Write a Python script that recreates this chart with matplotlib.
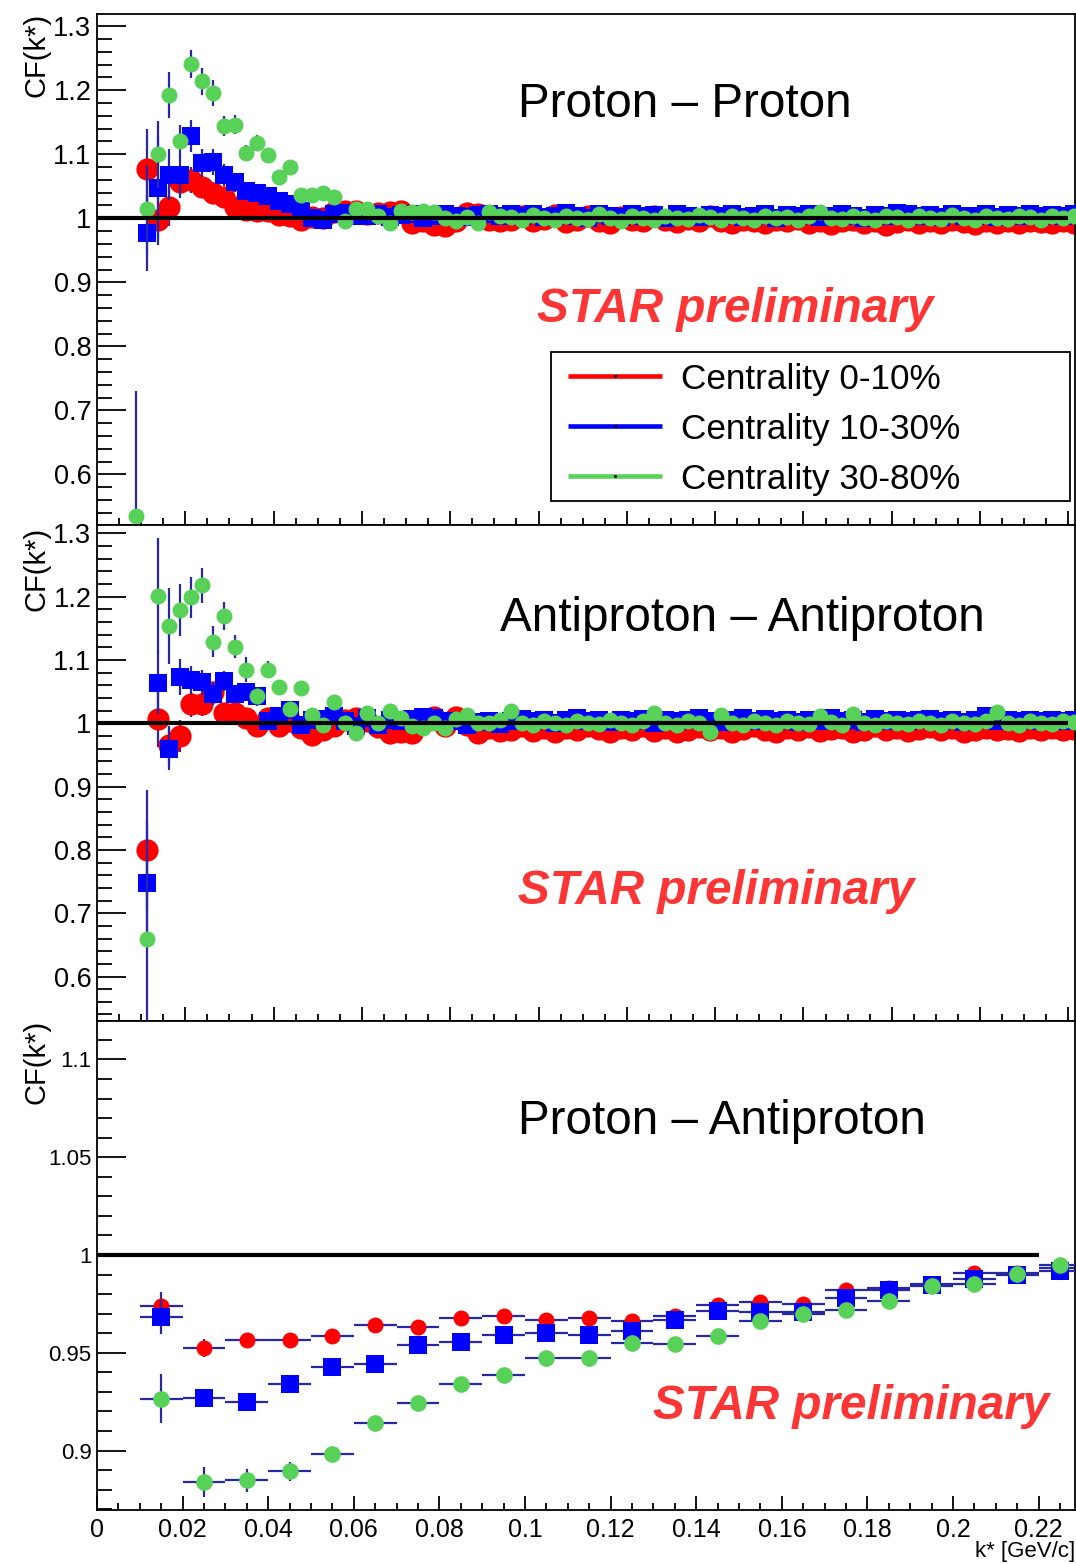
import numpy as np
import matplotlib
matplotlib.use("Agg")
import matplotlib.pyplot as plt
from matplotlib.ticker import MultipleLocator, FuncFormatter
from matplotlib.lines import Line2D
from matplotlib.patches import Rectangle

plt.rcParams['font.family'] = ['Liberation Sans', 'DejaVu Sans']

nan = float('nan')

# ---------------- data ----------------
# bin centres (k*, GeV/c) for the proton-proton and antiproton-antiproton panels
k_fine = [0.00875, 0.01125, 0.01375, 0.01625, 0.01875, 0.02125, 0.02375, 0.02625, 0.02875, 0.03125,
          0.03375, 0.03625, 0.03875, 0.04125, 0.04375, 0.04625, 0.04875, 0.05125, 0.05375, 0.05625,
          0.05875, 0.06125, 0.06375, 0.06625, 0.06875, 0.07125, 0.07375, 0.07625, 0.07875, 0.08125,
          0.08375, 0.08625, 0.08875, 0.09125, 0.09375, 0.09625, 0.09875, 0.10125, 0.10375, 0.10625,
          0.10875, 0.11125, 0.11375, 0.11625, 0.11875, 0.12125, 0.12375, 0.12625, 0.12875, 0.13125,
          0.13375, 0.13625, 0.13875, 0.14125, 0.14375, 0.14625, 0.14875, 0.15125, 0.15375, 0.15625,
          0.15875, 0.16125, 0.16375, 0.16625, 0.16875, 0.17125, 0.17375, 0.17625, 0.17875, 0.18125,
          0.18375, 0.18625, 0.18875, 0.19125, 0.19375, 0.19625, 0.19875, 0.20125, 0.20375, 0.20625,
          0.20875, 0.21125, 0.21375, 0.21625, 0.21875, 0.22125]

# Proton - Proton
pp_c0_10 = [nan, 1.077, 0.998, 1.018, 1.056, 1.060, 1.049, 1.040, 1.034, 1.017,
            1.013, 1.011, 1.012, 1.005, 1.003, 0.998, 1.002, 1.000, 1.010, 1.012,
            1.011, 1.006, 1.009, 1.010, 1.011, 0.992, 0.995, 0.990, 0.988, 0.996,
            1.008, 1.006, 0.998, 0.996,
            0.997, 1.004, 0.995, 0.999, 1.005, 0.994, 0.998, 1.003, 0.996, 0.993,
            1.002, 0.997, 0.995, 1.004, 0.998, 0.994, 0.999, 0.996, 1.003, 0.995,
            0.993, 0.998, 0.996, 0.992, 0.997, 0.995, 0.999, 0.993, 0.996, 0.991,
            0.995, 0.998, 0.993, 0.996, 0.990, 0.994, 0.997, 0.992, 0.995, 0.993,
            0.998, 0.994, 0.991, 0.996, 0.993, 0.995, 0.992, 0.996, 0.994, 0.992,
            0.995, 0.993]
pp_c10_30 = [nan, 0.977, 1.047, 1.068, 1.068, 1.128, 1.087, 1.088, 1.068, 1.056,
             1.042, 1.039, 1.035, 1.027, 1.022, 1.011, 1.001, 0.998, 1.006, 1.008,
             1.004, 1.003, 1.006, 1.002, 1.005, 1.007, 1.001, 1.004, 1.006, 1.003,
             1.002, 1.005, 1.007, 1.003,
             1.006, 1.003, 1.007, 1.002, 1.004, 1.008, 1.003, 1.001, 1.006, 1.004,
             1.002, 1.007, 1.003, 1.005, 1.001, 1.006, 1.004, 1.002, 1.005, 1.003,
             1.007, 1.002, 1.004, 1.006, 1.001, 1.005, 1.003, 1.007, 1.002, 1.004,
             1.006, 1.003, 1.001, 1.005, 1.004, 1.008, 1.007, 1.003, 1.005, 1.002,
             1.006, 1.004, 1.003, 1.007, 1.002, 1.005, 1.004, 1.006, 1.003, 1.005,
             1.004, 1.006]
pp_c30_80 = [0.535, 1.014, 1.100, 1.193, 1.120, 1.241, 1.214, 1.196, 1.144, 1.146,
             1.102, 1.118, 1.099, 1.064, 1.080, 1.036, 1.036, 1.039, 1.033, 0.996,
             1.015, 1.015, 1.003, 0.993, 1.011, 1.010, 1.011, 1.010, 1.000, 0.995,
             1.002, 0.993, 1.010, 1.003,
             1.002, 0.998, 1.005, 1.000, 0.997, 1.004, 1.001, 0.999, 1.006, 1.000,
             0.996, 1.003, 1.001, 0.998, 1.004, 1.000, 0.999, 1.005, 1.002, 0.997,
             1.003, 1.001, 0.998, 1.004, 1.000, 1.002, 0.997, 1.003, 1.010, 1.001,
             0.999, 1.004, 1.000, 0.997, 1.003, 1.002, 0.998, 1.004, 1.001, 0.999,
             1.005, 1.000, 0.998, 1.003, 1.001, 0.999, 1.004, 1.002, 0.998, 1.003,
             1.000, 1.004]
pp_c0_10_err = [0.0, 0.062, 0.040, 0.030, 0.025, 0.020, 0.018, 0.016, 0.014, 0.012, 0.011, 0.010]
pp_c10_30_err = [0.0, 0.060, 0.080, 0.040, 0.030, 0.025, 0.022, 0.020, 0.017, 0.015, 0.013, 0.012]
pp_c30_80_err = [0.195, 0.070, 0.052, 0.036, 0.025, 0.022, 0.021, 0.020, 0.016, 0.015,
                 0.013, 0.012, 0.011, 0.010, 0.010, 0.009]

# Antiproton - Antiproton
aa_c0_10 = [nan, 0.800, 1.007, 0.965, 0.980, 1.030, 1.030, 1.050, 1.016, 1.016,
            1.008, 0.996, 1.008, 0.995, 1.003, 0.993, 0.981, 0.990, 0.995, 1.005,
            1.008, 1.003, 0.994, 0.985, 0.986, 0.984, 1.000, 1.010, 0.996, 1.010,
            0.998, 0.984, 0.992, 0.988,
            0.990, 0.995, 0.988, 0.992, 0.986, 0.993, 0.989, 0.996, 0.991, 0.987,
            0.993, 0.990, 0.995, 0.988, 0.992, 0.986, 0.990, 0.994, 0.989, 0.992,
            0.987, 0.991, 0.995, 0.989, 0.986, 0.992, 0.990, 0.994, 0.988, 0.991,
            0.993, 0.987, 0.990, 0.995, 0.989, 0.992, 0.988, 0.991, 0.994, 0.989,
            0.992, 0.987, 0.990, 0.993, 0.989, 0.991, 0.988, 0.992, 0.990, 0.993,
            0.989, 0.991]
aa_c10_30 = [nan, 0.748, 1.064, 0.959, 1.073, 1.069, 1.065, 1.047, 1.067, 1.047,
             1.050, 1.043, 1.004, 1.012, 1.021, 0.998, 1.005, 1.007, 1.012, 1.004,
             0.995, 1.008, 0.998, 1.006, 1.004, 1.007, 1.010, 1.008, 1.004, 1.003,
             0.998, 1.002, 1.004, 0.999,
             1.004, 1.007, 1.003, 1.006, 1.001, 1.005, 1.008, 1.003, 1.006, 1.002,
             1.005, 1.004, 1.007, 1.001, 1.006, 1.003, 1.005, 1.008, 1.004, 1.002,
             1.006, 1.009, 1.004, 1.007, 1.003, 1.005, 1.002, 1.006, 1.004, 1.008,
             1.003, 1.005, 1.002, 1.007, 1.004, 1.006, 1.003, 1.005, 1.007, 1.004,
             1.006, 1.002, 1.005, 1.012, 1.004, 1.006, 1.003, 1.005, 1.004, 1.006,
             1.003, 1.005]
aa_c30_80 = [nan, 0.660, 1.201, 1.153, 1.179, 1.199, 1.218, 1.129, 1.170, 1.121,
             1.085, 1.043, 1.085, 1.057, 1.022, 1.056, 1.013, 0.997, 1.034, 1.000,
             0.985, 1.017, 1.000, 1.019, 1.009, 0.995, 0.992, 1.000, 0.992, 1.007,
             1.013, 1.000, 1.000, 1.005,
             1.020, 1.001, 0.998, 1.004, 1.000, 0.997, 1.003, 1.001, 0.999, 1.005,
             1.000, 0.997, 1.003, 1.016, 1.001, 0.998, 1.004, 1.000, 0.987, 1.013,
             1.001, 0.998, 1.004, 1.000, 0.997, 1.003, 1.001, 0.999, 1.011, 1.002,
             0.998, 1.014, 1.000, 0.997, 1.003, 1.001, 0.999, 1.004, 1.000, 0.998,
             1.003, 1.001, 0.999, 1.004, 1.018, 1.000, 0.998, 1.003, 1.001, 0.999,
             1.004, 1.002]
aa_c0_10_err = [0.0, 0.095, 0.045, 0.030, 0.025, 0.020, 0.018, 0.016, 0.014, 0.012]
aa_c10_30_err = [0.0, 0.100, 0.050, 0.033, 0.028, 0.022, 0.020, 0.018, 0.016, 0.014]
aa_c30_80_err = [0.0, 0.130, 0.092, 0.060, 0.041, 0.032, 0.028, 0.025, 0.022, 0.018,
                 0.019, 0.015, 0.013, 0.012, 0.011, 0.010]

# Proton - Antiproton
k_coarse = [0.015, 0.025, 0.035, 0.045, 0.055, 0.065, 0.075, 0.085, 0.095, 0.105, 0.115,
            0.125, 0.135, 0.145, 0.155, 0.165, 0.175, 0.185, 0.195, 0.205, 0.215, 0.225]
k_coarse_halfwidth = 0.005
pa_c0_10 = [0.9737, 0.9522, 0.9563, 0.9563, 0.9588, 0.9640, 0.9632, 0.9678, 0.9690, 0.9665, 0.9680,
            0.9660, 0.9690, 0.9742, 0.9760, 0.9750, 0.9820, 0.9830, 0.9850, 0.9910, 0.9910, 0.9935]
pa_c10_30 = [0.9683, 0.9271, 0.9249, 0.9339, 0.9429, 0.9444, 0.9539, 0.9556, 0.9593, 0.9600, 0.9592,
             0.9610, 0.9668, 0.9715, 0.9710, 0.9707, 0.9778, 0.9822, 0.9848, 0.9875, 0.9900, 0.9919]
pa_c30_80 = [0.9266, 0.8839, 0.8847, 0.8893, 0.8980, 0.9140, 0.9242, 0.9342, 0.9386, 0.9473, 0.9473,
             0.9550, 0.9544, 0.9586, 0.9662, 0.9698, 0.9720, 0.9763, 0.9843, 0.9852, 0.9905, 0.9951]
pa_c0_10_err = [0.0075, 0.0046, 0.0040, 0.0035, 0.0030]
pa_c10_30_err = [0.0085, 0.0045, 0.0040, 0.0035, 0.0030]
pa_c30_80_err = [0.0125, 0.0075, 0.0058, 0.0047, 0.0040, 0.0035, 0.0030]

ref_k = [0.0, 0.22]
ref_cf = [1.0, 1.0]

legend_labels = ["Centrality 0-10%", "Centrality 10-30%", "Centrality 30-80%"]
titles = ["Proton \u2013 Proton", "Antiproton \u2013 Antiproton", "Proton \u2013 Antiproton"]

# ---------------- figure ----------------
W, H = 1076, 1564
fig = plt.figure(figsize=(W / 100, H / 100), dpi=100)


def fx(px):
    return px / W


def fy(py):
    return 1 - py / H


L, R = 97, 1075


def add(top, bot):
    return fig.add_axes([fx(L), fy(bot), fx(R) - fx(L), fy(top) - fy(bot)])


ax1 = add(14, 525)
ax2 = add(525, 1020.7)
ax3 = add(1020.7, 1510)

RED = '#ff0000'
BLUE = '#0000ff'
GREEN = '#58d158'
ECOL = '#2828a6'
fmt = FuncFormatter(lambda v, p: '%g' % v)


def style(ax, ylo, yhi, xhi, ymaj, ymin, ysize, show_x):
    ax.set_xlim(0, xhi)
    ax.set_ylim(ylo, yhi)
    ax.xaxis.set_major_locator(MultipleLocator(0.02))
    ax.xaxis.set_minor_locator(MultipleLocator(0.005))
    ax.yaxis.set_major_locator(MultipleLocator(ymaj))
    ax.yaxis.set_minor_locator(MultipleLocator(ymin))
    ax.xaxis.set_major_formatter(fmt)
    ax.yaxis.set_major_formatter(fmt)
    ax.tick_params(axis='y', which='major', direction='in', length=21, width=1.3,
                   left=True, right=False, labelsize=ysize, pad=4)
    ax.tick_params(axis='y', which='minor', direction='in', length=11, width=1.3,
                   left=True, right=False)
    ax.tick_params(axis='x', which='major', direction='in', length=10, width=1.3,
                   bottom=True, top=False, labelbottom=show_x, labelsize=18, pad=6)
    ax.tick_params(axis='x', which='minor', direction='in', length=5, width=1.3,
                   bottom=True, top=False)
    for s in ax.spines.values():
        s.set_linewidth(1.3)


style(ax1, 0.5208, 1.3192, 0.2215, 0.1, 0.02, 19.5, False)
style(ax2, 0.5302, 1.3133, 0.2215, 0.1, 0.02, 19.5, False)
style(ax3, 0.8696, 1.1198, 0.2285, 0.05, 0.01, 16, True)


def draw(ax, k, vals, errs, color, marker, ms, z):
    n = len(errs)
    ax.errorbar(k[:n], vals[:n], yerr=errs, fmt='none', ecolor=ECOL,
                elinewidth=1.6, capsize=0, zorder=z)
    ax.plot(k, vals, ls='none', marker=marker, ms=ms, mfc=color, mec=color,
            mew=0, zorder=z + 0.1)


for ax, (r, re), (b, be), (g, ge) in [
        (ax1, (pp_c0_10, pp_c0_10_err), (pp_c10_30, pp_c10_30_err), (pp_c30_80, pp_c30_80_err)),
        (ax2, (aa_c0_10, aa_c0_10_err), (aa_c10_30, aa_c10_30_err), (aa_c30_80, aa_c30_80_err))]:
    draw(ax, k_fine, r, re, RED, 'o', 16, 2)
    draw(ax, k_fine, b, be, BLUE, 's', 13, 3)
    draw(ax, k_fine, g, ge, GREEN, 'o', 11.5, 4)
    ax.plot(ref_k, ref_cf, color='black', lw=3, zorder=10, solid_capstyle='butt')

for vals, errs, color, marker, ms, z in [
        (pa_c0_10, pa_c0_10_err, RED, 'o', 11.5, 2),
        (pa_c10_30, pa_c10_30_err, BLUE, 's', 13, 3),
        (pa_c30_80, pa_c30_80_err, GREEN, 'o', 12, 4)]:
    ax3.errorbar(k_coarse, vals, xerr=k_coarse_halfwidth, fmt='none', ecolor=ECOL,
                 elinewidth=1.6, capsize=0, zorder=z)
    draw(ax3, k_coarse, vals, errs, color, marker, ms, z)
ax3.plot(ref_k, ref_cf, color='black', lw=3, zorder=10, solid_capstyle='butt')

# y-axis titles
for top in (13, 527, 1020):
    fig.text(fx(37), fy(top), 'CF(k*)', rotation=90, ha='center', va='top', fontsize=21)

# x-axis title
fig.text(fx(1075), fy(1562), 'k* [GeV/c]', ha='right', va='bottom', fontsize=16)

# panel titles
for (x0, base), t in zip([(518, 117), (500, 631), (518, 1134)], titles):
    fig.text(fx(x0), fy(base), t, fontsize=34.3, ha='left', va='baseline')

# STAR preliminary
for x0, base in [(537, 322), (518, 904), (653, 1419)]:
    fig.text(fx(x0), fy(base), 'STAR preliminary', fontsize=34.3, fontweight='bold',
             fontstyle='italic', color='#fd3535', ha='left', va='baseline')

# legend (drawn in figure pixels)
fig.add_artist(Rectangle((fx(551), fy(501)), fx(1070) - fx(551), fy(352) - fy(501),
                         transform=fig.transFigure, facecolor='white', edgecolor='black',
                         lw=1.3, zorder=20))
for yc, col, lab in zip([376, 426, 476], [RED, BLUE, GREEN], legend_labels):
    fig.add_artist(Line2D([fx(568), fx(662)], [fy(yc), fy(yc)], transform=fig.transFigure,
                          color=col, lw=3.3, zorder=21, solid_capstyle='butt'))
    fig.add_artist(Line2D([fx(615)], [fy(yc)], transform=fig.transFigure, ls='none',
                          marker='o', ms=1.2, color='black', zorder=22))
    fig.text(fx(681), fy(yc + 12.5), lab, fontsize=25.3, ha='left', va='baseline', zorder=23)

fig.savefig('out.png', dpi=100)
